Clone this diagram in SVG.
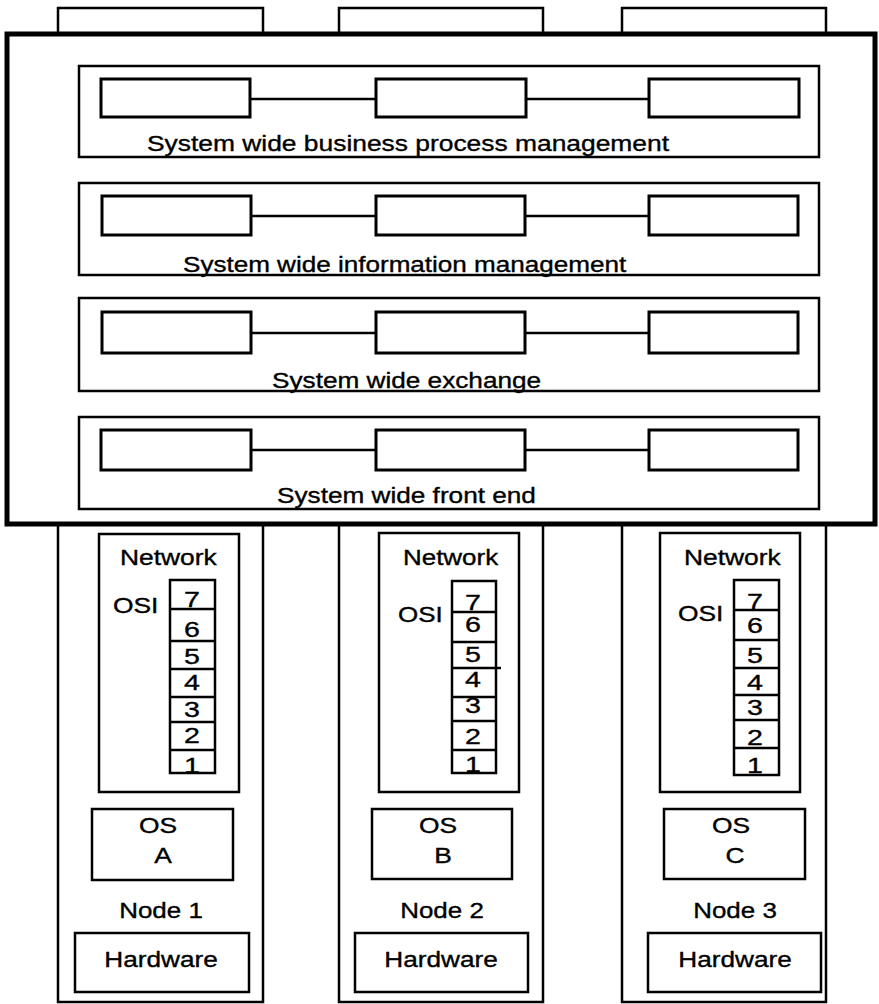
<svg xmlns="http://www.w3.org/2000/svg" width="879" height="1004" viewBox="0 0 879 1004">
<style>
  .bg{fill:#fff}
  .node{fill:#fff;stroke:#000;stroke-width:2.5}
  .big{fill:#fff;stroke:#000;stroke-width:5}
  .layer{fill:none;stroke:#000;stroke-width:2.5}
  .comp{fill:#fff;stroke:#000;stroke-width:3}
  .box{fill:#fff;stroke:#000;stroke-width:2.5}
  .cell{fill:none;stroke:#000;stroke-width:2.5}
  .conn{stroke:#000;stroke-width:2.5;fill:none}
  text{font-family:"Liberation Sans",Arial,Helvetica,sans-serif;font-size:22px;fill:#000;stroke:#000;stroke-width:0.35}
  .c{text-anchor:middle}
</style>
<rect class="bg" x="0" y="0" width="879" height="1004"/>

<!-- node columns (tabs appear above the system box) -->
<g id="node1">
  <rect class="node" x="58" y="8" width="205" height="994"/>
</g>
<g id="node2">
  <rect class="node" x="339" y="8" width="204" height="994"/>
</g>
<g id="node3">
  <rect class="node" x="622" y="8" width="204" height="994"/>
</g>

<!-- system wide box -->
<g id="system">
  <rect class="big" x="7" y="34" width="868" height="490"/>
</g>

<g id="layer-bpm">
  <rect class="layer" x="79" y="66" width="740" height="91"/>
  <rect class="comp" x="101" y="79" width="149" height="38"/>
  <rect class="comp" x="376" y="79" width="150" height="38"/>
  <rect class="comp" x="649" y="79" width="150" height="38"/>
  <text transform="translate(147,151) scale(1.2,1)">System wide business process management</text>
</g>
<g id="layer-info">
  <rect class="layer" x="79" y="183" width="740" height="92"/>
  <rect class="comp" x="102" y="196" width="149" height="39"/>
  <rect class="comp" x="376" y="196" width="149" height="39"/>
  <rect class="comp" x="649" y="196" width="149" height="39"/>
  <text transform="translate(183,272) scale(1.185,1)">System wide information management</text>
</g>
<g id="layer-exchange">
  <rect class="layer" x="79" y="298" width="740" height="93"/>
  <rect class="comp" x="102" y="312" width="149" height="41"/>
  <rect class="comp" x="376" y="312" width="149" height="41"/>
  <rect class="comp" x="649" y="312" width="149" height="41"/>
  <text transform="translate(272,388) scale(1.19,1)">System wide exchange</text>
</g>
<g id="layer-frontend">
  <rect class="layer" x="79" y="417" width="740" height="92"/>
  <rect class="comp" x="101" y="430" width="150" height="40"/>
  <rect class="comp" x="376" y="430" width="149" height="40"/>
  <rect class="comp" x="649" y="430" width="149" height="40"/>
  <text transform="translate(277,503) scale(1.19,1)">System wide front end</text>
</g>

<g id="connectors">
  <line class="conn" x1="250" y1="99" x2="376" y2="99"/>
  <line class="conn" x1="526" y1="99" x2="649" y2="99"/>
  <line class="conn" x1="251" y1="216" x2="376" y2="216"/>
  <line class="conn" x1="525" y1="216" x2="649" y2="216"/>
  <line class="conn" x1="251" y1="333" x2="376" y2="333"/>
  <line class="conn" x1="525" y1="333" x2="649" y2="333"/>
  <line class="conn" x1="251" y1="450" x2="376" y2="450"/>
  <line class="conn" x1="525" y1="450" x2="649" y2="450"/>
</g>

<!-- Node 1 contents -->
<g id="node1-network">
  <rect class="box" x="99" y="534" width="140" height="258"/>
  <text transform="translate(120,565) scale(1.2,1)">Network</text>
  <text transform="translate(113,613) scale(1.2,1)">OSI</text>
  <rect class="cell" x="170" y="580" width="45" height="193"/>
  <line class="cell" x1="170" y1="609" x2="215" y2="609"/>
  <line class="cell" x1="170" y1="641" x2="215" y2="641"/>
  <line class="cell" x1="170" y1="669" x2="215" y2="669"/>
  <line class="cell" x1="170" y1="697" x2="215" y2="697"/>
  <line class="cell" x1="170" y1="722" x2="215" y2="722"/>
  <line class="cell" x1="170" y1="750" x2="215" y2="750"/>
  <text class="c" transform="translate(192,607) scale(1.3,1)">7</text>
  <text class="c" transform="translate(192,637) scale(1.3,1)">6</text>
  <text class="c" transform="translate(192,664) scale(1.3,1)">5</text>
  <text class="c" transform="translate(192,690) scale(1.3,1)">4</text>
  <text class="c" transform="translate(192,717) scale(1.3,1)">3</text>
  <text class="c" transform="translate(192,743) scale(1.3,1)">2</text>
  <text class="c" transform="translate(192,773) scale(1.3,1)">1</text>
</g>
<g id="node1-os">
  <rect class="box" x="92" y="809" width="141" height="71"/>
  <text class="c" transform="translate(158,833) scale(1.2,1)">OS</text>
  <text class="c" transform="translate(163,863) scale(1.2,1)">A</text>
</g>
<g id="node1-label"><text class="c" transform="translate(161,918) scale(1.18,1)">Node 1</text></g>
<g id="node1-hw">
  <rect class="box" x="75" y="933" width="174" height="59"/>
  <text class="c" transform="translate(161,967) scale(1.19,1)">Hardware</text>
</g>

<!-- Node 2 contents -->
<g id="node2-network">
  <rect class="box" x="379" y="533" width="140" height="259"/>
  <text transform="translate(403,565) scale(1.18,1)">Network</text>
  <text transform="translate(398,622) scale(1.18,1)">OSI</text>
  <rect class="cell" x="452" y="581" width="44" height="192"/>
  <line class="cell" x1="452" y1="612" x2="496" y2="612"/>
  <line class="cell" x1="452" y1="642" x2="496" y2="642"/>
  <line class="cell" x1="452" y1="668" x2="501" y2="668"/>
  <line class="cell" x1="452" y1="697" x2="496" y2="697"/>
  <line class="cell" x1="452" y1="721" x2="496" y2="721"/>
  <line class="cell" x1="452" y1="750" x2="496" y2="750"/>
  <text class="c" transform="translate(473,610) scale(1.3,1)">7</text>
  <text class="c" transform="translate(473,632) scale(1.3,1)">6</text>
  <text class="c" transform="translate(473,662) scale(1.3,1)">5</text>
  <text class="c" transform="translate(473,687) scale(1.3,1)">4</text>
  <text class="c" transform="translate(473,713) scale(1.3,1)">3</text>
  <text class="c" transform="translate(473,744) scale(1.3,1)">2</text>
  <text class="c" transform="translate(473,772) scale(1.3,1)">1</text>
</g>
<g id="node2-os">
  <rect class="box" x="372" y="809" width="140" height="70"/>
  <text class="c" transform="translate(438,833) scale(1.2,1)">OS</text>
  <text class="c" transform="translate(443,863) scale(1.2,1)">B</text>
</g>
<g id="node2-label"><text class="c" transform="translate(442,918) scale(1.18,1)">Node 2</text></g>
<g id="node2-hw">
  <rect class="box" x="355" y="933" width="173" height="59"/>
  <text class="c" transform="translate(441,967) scale(1.19,1)">Hardware</text>
</g>

<!-- Node 3 contents -->
<g id="node3-network">
  <rect class="box" x="660" y="533" width="140" height="259"/>
  <text transform="translate(684,565) scale(1.2,1)">Network</text>
  <text transform="translate(678,621) scale(1.2,1)">OSI</text>
  <rect class="cell" x="734" y="580" width="45" height="195"/>
  <line class="cell" x1="734" y1="610" x2="779" y2="610"/>
  <line class="cell" x1="734" y1="640" x2="779" y2="640"/>
  <line class="cell" x1="734" y1="668" x2="779" y2="668"/>
  <line class="cell" x1="734" y1="695" x2="779" y2="695"/>
  <line class="cell" x1="734" y1="720" x2="779" y2="720"/>
  <line class="cell" x1="734" y1="748" x2="779" y2="748"/>
  <text class="c" transform="translate(755,609) scale(1.3,1)">7</text>
  <text class="c" transform="translate(755,633) scale(1.3,1)">6</text>
  <text class="c" transform="translate(755,663) scale(1.3,1)">5</text>
  <text class="c" transform="translate(755,690) scale(1.3,1)">4</text>
  <text class="c" transform="translate(755,715) scale(1.3,1)">3</text>
  <text class="c" transform="translate(755,745) scale(1.3,1)">2</text>
  <text class="c" transform="translate(755,773) scale(1.3,1)">1</text>
</g>
<g id="node3-os">
  <rect class="box" x="664" y="809" width="141" height="70"/>
  <text class="c" transform="translate(731,833) scale(1.2,1)">OS</text>
  <text class="c" transform="translate(735,863) scale(1.2,1)">C</text>
</g>
<g id="node3-label"><text class="c" transform="translate(735,918) scale(1.18,1)">Node 3</text></g>
<g id="node3-hw">
  <rect class="box" x="648" y="933" width="173" height="59"/>
  <text class="c" transform="translate(735,967) scale(1.19,1)">Hardware</text>
</g>
</svg>
